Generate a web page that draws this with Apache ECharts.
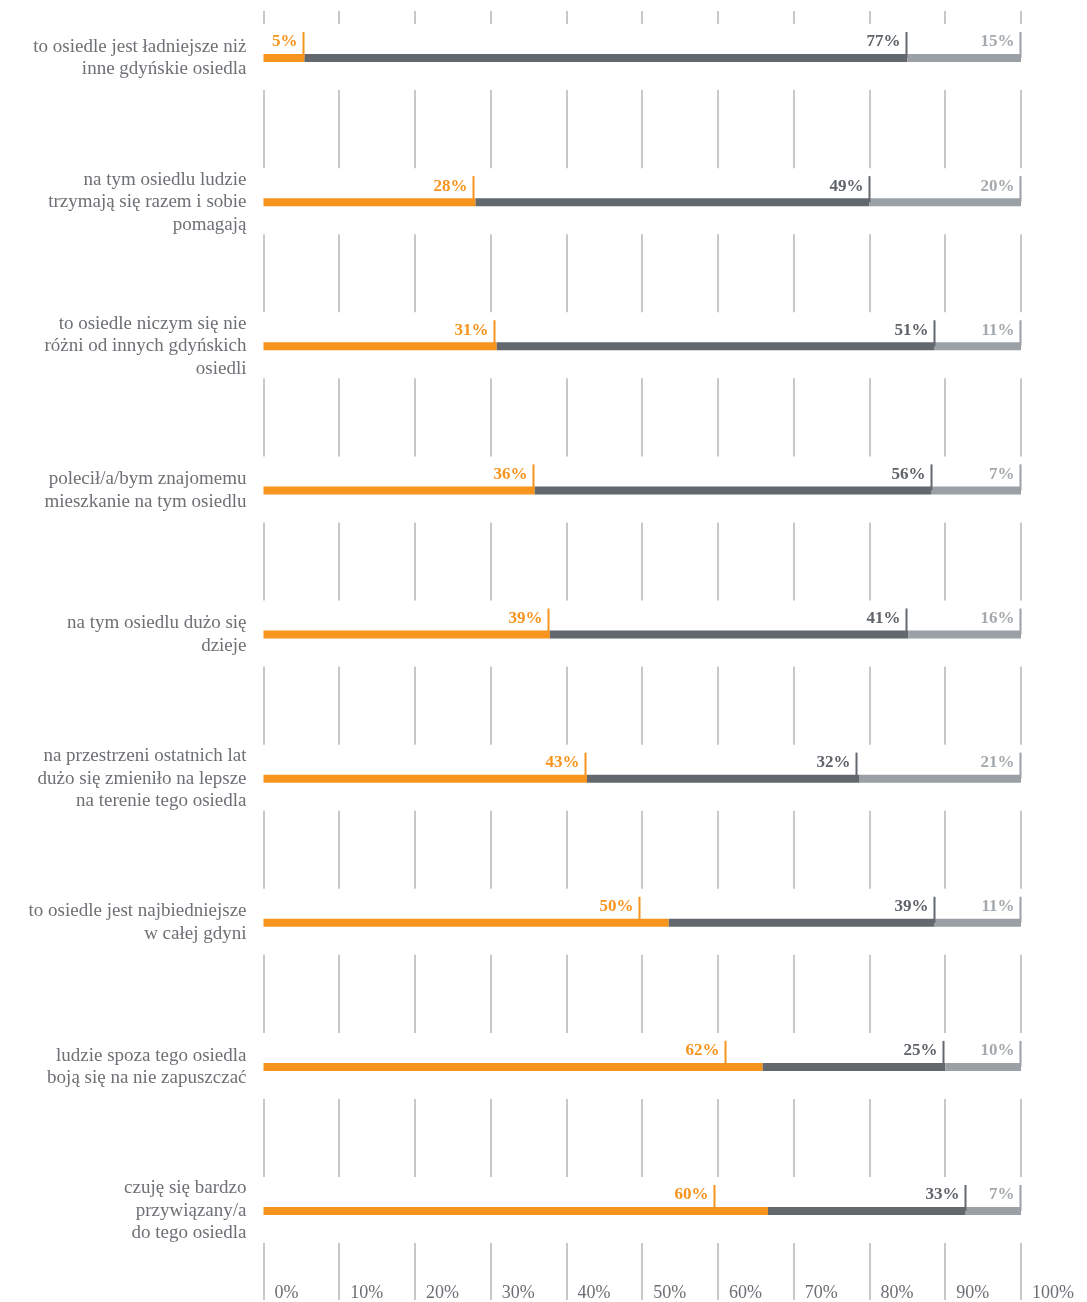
<!DOCTYPE html>
<html>
<head>
<meta charset="utf-8">
<script src="https://cdn.jsdelivr.net/npm/echarts@6/dist/echarts.min.js"></script>
<style>
  html, body { margin: 0; padding: 0; background: #fff; }
  #chart { width: 1087px; height: 1302px; }
</style>
</head>
<body>
<div id="chart"></div>
<script>
var categories = [
  'to osiedle jest ładniejsze niż\ninne gdyńskie osiedla',
  'na tym osiedlu ludzie\ntrzymają się razem i sobie\npomagają',
  'to osiedle niczym się nie\nróżni od innych gdyńskich\nosiedli',
  'polecił/a/bym znajomemu\nmieszkanie na tym osiedlu',
  'na tym osiedlu dużo się\ndzieje',
  'na przestrzeni ostatnich lat\ndużo się zmieniło na lepsze\nna terenie tego osiedla',
  'to osiedle jest najbiedniejsze\nw całej gdyni',
  'ludzie spoza tego osiedla\nboją się na nie zapuszczać',
  'czuję się bardzo\nprzywiązany/a\ndo tego osiedla'
]

// bar segment lengths as drawn (percent of axis)
var orangeBar = [5.4, 28.0, 30.8, 35.8, 37.8, 42.7, 53.5, 65.9, 66.6]
var darkBar = [79.6, 52.0, 57.8, 52.4, 47.3, 36.0, 35.1, 24.1, 26.1]
var grayBar = [15.0, 20.0, 11.4, 11.8, 14.9, 21.3, 11.4, 10.0, 7.3]

// printed values
var orangeLabel = [5, 28, 31, 36, 39, 43, 50, 62, 60]
var darkLabel = [77, 49, 51, 56, 41, 32, 39, 25, 33]
var grayLabel = [15, 20, 11, 7, 16, 21, 11, 10, 7]

// where the little marker ticks sit on the axis
var orangeMark = [5.3, 27.8, 30.6, 35.7, 37.7, 42.6, 49.7, 61.0, 59.6]
var darkMark = [84.9, 80.0, 88.6, 88.2, 85.0, 78.3, 88.6, 89.8, 92.8]
var grayMark = [100, 100, 100, 100, 100, 100, 100, 100, 100]

var ticks = [0, 10, 20, 30, 40, 50, 60, 70, 80, 90, 100]

var ORANGE = '#f7941d'
var DARK = '#62686e'
var GRAY = '#9aa0a5'
var GRID = '#c8c8cb'
var FONT = '"Liberation Serif", "DejaVu Serif", serif'

var markers = []
categories.forEach(function (c, i) {
  markers.push({value: [orangeMark[i], i], text: orangeLabel[i] + '%', color: ORANGE, textColor: ORANGE})
  markers.push({value: [darkMark[i], i], text: darkLabel[i] + '%', color: DARK, textColor: '#5e6469'})
  markers.push({value: [grayMark[i], i], text: grayLabel[i] + '%', color: GRAY, textColor: '#a4a9ad'})
})

function barSeries(color, data) {
  return {
    type: 'bar', stack: 'a', barWidth: 8, silent: true, z: 2, clip: false,
    itemStyle: {color: color}, data: data
  }
}

var chart = echarts.init(document.getElementById('chart'))

chart.setOption({
  animation: false,
  grid: {left: 263.5, right: 66, top: 58, bottom: 91, containLabel: false},
  xAxis: {
    type: 'value',
    min: 0,
    max: 100,
    interval: 10,
    offset: 91,
    splitLine: {show: false},
    axisLine: {show: false},
    axisTick: {show: false},
    axisLabel: {
      inside: true,
      margin: 0,
      align: 'left',
      padding: [0, 0, 0, 11],
      formatter: '{value}%',
      color: '#6b6e72',
      fontFamily: FONT,
      fontSize: 18
    }
  },
  yAxis: {
    type: 'category',
    inverse: true,
    boundaryGap: false,
    data: categories,
    axisLine: {show: false},
    axisTick: {show: false},
    splitLine: {show: false},
    axisLabel: {
      margin: 17,
      color: '#6d7074',
      fontFamily: FONT,
      fontSize: 19,
      lineHeight: 22.5,
      align: 'right'
    }
  },
  series: [
    {
      type: 'custom',
      silent: true,
      z: 1,
      data: categories.map(function (c, i) { return [0, i] }),
      renderItem: function (params, api) {
        var i = params.dataIndex
        var cy = api.coord([0, i])[1]
        var band = api.coord([0, 1])[1] - api.coord([0, 0])[1]
        var spans = []
        if (i === 0) spans.push([11, cy - 34])
        spans.push([cy + 32, i === categories.length - 1 ? 1300 : cy + band - 34])
        var children = []
        spans.forEach(function (s) {
          ticks.forEach(function (t) {
            var x = Math.round(api.coord([t, i])[0])
            children.push({
              type: 'line',
              shape: {x1: x, y1: s[0], x2: x, y2: s[1]},
              style: {stroke: GRID, lineWidth: 2}
            })
          })
        })
        return {type: 'group', children: children}
      }
    },
    barSeries(ORANGE, orangeBar),
    barSeries(DARK, darkBar),
    barSeries(GRAY, grayBar),
    {
      type: 'custom',
      silent: true,
      z: 3,
      data: markers,
      renderItem: function (params, api) {
        var m = markers[params.dataIndex]
        var p = api.coord([api.value(0), api.value(1)])
        var x = Math.round(p[0]) - 0.5
        var cy = p[1]
        return {
          type: 'group',
          children: [
            {
              type: 'line',
              shape: {x1: x, y1: cy - 26, x2: x, y2: cy},
              style: {stroke: m.color, lineWidth: 2}
            },
            {
              type: 'text',
              style: {
                x: x - 6,
                y: cy - 16,
                text: m.text,
                align: 'right',
                verticalAlign: 'middle',
                fill: m.textColor,
                font: 'bold 17px ' + FONT
              }
            }
          ]
        }
      }
    }
  ]
})
</script>
</body>
</html>
